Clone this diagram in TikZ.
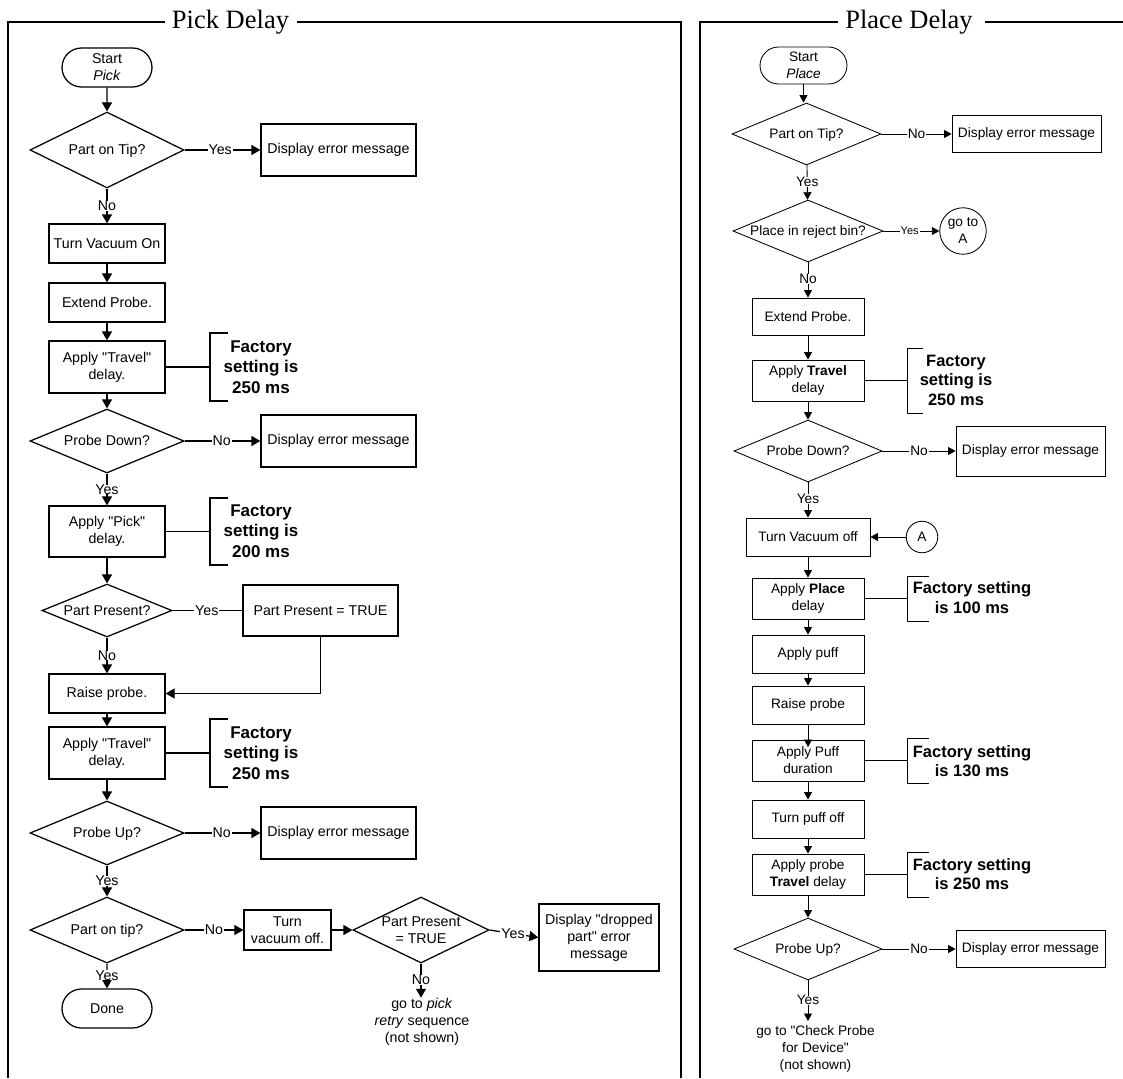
\documentclass[tikz,border=0pt]{standalone}
\usepackage{fontspec}
\setmainfont{Liberation Sans}[Ligatures=TeXOff]
\newfontfamily\titlefont{Liberation Serif}
\usetikzlibrary{shapes.geometric,shapes.misc,arrows.meta}
\newcommand\placenode[7]{% style, name, x1,y1,x2,y2, text
  \pgfmathsetmacro\nw{#5-#3}\pgfmathsetmacro\nh{#6-#4}%
  \pgfmathsetmacro\nx{(#3+#5)/2}\pgfmathsetmacro\ny{(#4+#6)/2}%
  \node[#1,minimum width=\nw pt,minimum height=\nh pt] (#2) at (\nx,\ny) {#7};}
\newcommand\dtext[1]{\makebox[0pt]{\raisebox{-.36em}[0pt][0pt]{\begin{tabular}[c]{@{}c@{}}#1\end{tabular}}}}
\tikzset{
  x=1pt,y=-1pt,
  frame/.style={line width=1.7pt,line cap=butt},
  title/.style={font=\titlefont\fontsize{26.5}{30}\selectfont,inner sep=0pt},
  lefts/.style={line width=1.25pt,font=\fontsize{14.2}{17}\selectfont},
  rights/.style={line width=0.85pt,font=\fontsize{13.7}{17}\selectfont},
  boxn/.style={draw,rectangle,inner sep=0pt,align=center},
  termn/.style={draw,rounded rectangle,inner sep=0pt,align=center},
  dia/.style={draw,diamond,shape aspect=2,inner sep=0pt,align=center},
  circn/.style={draw,circle,inner sep=0pt,align=center},
  lab/.style={fill=white,inner xsep=1pt,inner ysep=0pt,align=center},
  smalllab/.style={lab,font=\fontsize{11}{13}\selectfont},
  plain/.style={inner sep=0pt,align=center},
  factl/.style={inner sep=0pt,align=center,font=\bfseries\fontsize{17}{20.5}\selectfont},
  factr/.style={inner sep=0pt,align=center,font=\bfseries\fontsize{16.5}{19.5}\selectfont},
  arrL/.style={-{Triangle[length=9pt,width=10pt]},line width=1.25pt},
  arrR/.style={-{Triangle[length=7.5pt,width=8pt]},line width=0.85pt},
  lin/.style={line width=1.25pt},
  linr/.style={line width=0.85pt},
}
\begin{document}
\begin{tikzpicture}
\useasboundingbox (0,0) rectangle (1123,1078);
% ---- frames
\node[title] (tp) at (230.5,22) {Pick Delay};
\node[title] (tq) at (909,22) {Place Delay};
\coordinate (pf1) at (8,1078); \coordinate (pf2) at (8,22); \coordinate (pf2b) at (165,22);
\coordinate (pf3a) at (297,22); \coordinate (pf3) at (681,22); \coordinate (pf4) at (681,1078);
\draw[frame] (pf1) -- (pf2) -- (pf2b);
\draw[frame] (pf3a) -- (pf3) -- (pf4);
\coordinate (qf1) at (700,1078); \coordinate (qf2) at (700,22); \coordinate (qf2b) at (838,22);
\coordinate (qf3a) at (985,22); \coordinate (qf3) at (1123,22);
\draw[frame] (qf1) -- (qf2) -- (qf2b);
\draw[frame] (qf3a) -- (qf3);
% ---- LEFT
\begin{scope}[lefts]
\placenode{termn}{a0}{62}{48}{152}{87}{Start\\\textit{Pick}}
\placenode{dia}{a1}{30}{112}{184}{188}{\dtext{Part on Tip?}}
\placenode{boxn}{a1e}{261}{124}{416}{176}{Display error message}
\placenode{boxn}{a2}{49}{224}{165}{263}{Turn Vacuum On}
\placenode{boxn}{a3}{49}{283}{165}{322}{Extend Probe.}
\placenode{boxn}{a4}{49}{341}{165}{393}{Apply "Travel"\\delay.}
\placenode{dia}{a5}{30}{409}{184}{473}{\dtext{Probe Down?}}
\placenode{boxn}{a5e}{261}{415}{416}{467}{Display error message}
\placenode{boxn}{a6}{49}{506}{165}{557}{Apply "Pick"\\delay.}
\placenode{dia}{a7}{42}{584}{172}{637}{\dtext{Part Present?}}
\placenode{boxn}{a7e}{243}{585}{398}{636}{Part Present = TRUE}
\placenode{boxn}{a8}{49}{674}{165}{713}{Raise probe.}
\placenode{boxn}{a9}{49}{727}{165}{779}{Apply "Travel"\\delay.}
\placenode{dia}{a10}{30}{801}{184}{865}{\dtext{Probe Up?}}
\placenode{boxn}{a10e}{261}{807}{416}{859}{Display error message}
\placenode{dia}{a11}{30}{897}{184}{963}{\dtext{Part on tip?}}
\placenode{boxn}{a12}{244}{910}{331}{950}{Turn\\vacuum off.}
\placenode{dia}{a13}{353}{897}{489}{963}{\dtext{Part Present\\= TRUE}}
\placenode{boxn}{a14}{539}{904}{659}{971}{Display "dropped\\part" error\\message}
\placenode{termn}{a15}{62}{989}{152}{1028}{Done}
\node[plain] (a16) at (422,1022) {go to \textit{pick}\\\textit{retry} sequence\\(not shown)};
\node[factl] (f1) at (261,367) {Factory\\setting is\\250 ms};
\node[factl] (f2) at (261,531) {Factory\\setting is\\200 ms};
\node[factl] (f3) at (261,753) {Factory\\setting is\\250 ms};
\coordinate (b1) at (210,367); \coordinate (b2) at (210,531); \coordinate (b3) at (210,753);
\draw[lin] (228,333) -- (210,333) -- (210,401) -- (228,401);
\draw[lin] (228,498) -- (210,498) -- (210,565) -- (228,565);
\draw[lin] (228,719) -- (210,719) -- (210,787) -- (228,787);
\draw[lin] (a4.east) -- (a4.east -| b1);
\draw[lin] (a6.east) -- (a6.east -| b2);
\draw[lin] (a9.east) -- (a9.east -| b3);
\draw[arrL] (a0) -- (a1);
\draw[arrL] (a1) -- node[lab,pos=.47]{Yes} (a1e);
\draw[arrL] (a1) -- node[lab,pos=.5]{No} (a2);
\draw[arrL] (a2) -- (a3);
\draw[arrL] (a3) -- (a4);
\draw[arrL] (a4) -- (a5);
\draw[arrL] (a5) -- node[lab,pos=.49]{No} (a5e);
\draw[arrL] (a5) -- node[lab,pos=.5]{Yes} (a6);
\draw[arrL] (a6) -- (a7);
\draw[lin] (a7) -- node[lab,pos=.49]{Yes} (a7e);
\draw[arrL] (a7) -- node[lab,pos=.5]{No} (a8);
\draw[arrL] (a7e.south) |- (a8.east);
\draw[arrL] (a8) -- (a9);
\draw[arrL] (a9) -- (a10);
\draw[arrL] (a10) -- node[lab,pos=.49]{No} (a10e);
\draw[arrL] (a10) -- node[lab,pos=.5]{Yes} (a11);
\draw[arrL] (a11) -- node[lab,pos=.5]{No} (a12);
\draw[arrL] (a12) -- (a13);
\draw[arrL] (a13.east) -- node[lab,pos=.48]{Yes} (a14.west);
\draw[arrL] (a11) -- node[lab,pos=.47]{Yes} (a15);
\draw[arrL] (a13.south) -- node[lab,pos=.48]{No} (a16.north -| a13.south);
\end{scope}
% ---- RIGHT
\begin{scope}[rights]
\placenode{termn}{c0}{760}{47}{847}{84}{Start\\\textit{Place}}
\placenode{dia}{c1}{732}{103}{881}{165}{\dtext{Part on Tip?}}
\placenode{boxn}{c1e}{952}{115.5}{1101}{152.5}{Display error message}
\placenode{dia}{c2}{733}{200}{883}{262}{\dtext{Place in reject bin?}}
\node[circn,minimum size=46.5pt] (c2e) at (963,231) {go to\\A};
\placenode{boxn}{c3}{752}{298}{864}{335}{Extend Probe.}
\placenode{boxn}{c4}{752}{360}{864}{401}{Apply \textbf{Travel}\\delay}
\placenode{dia}{c5}{734}{420}{882}{482}{\dtext{Probe Down?}}
\placenode{boxn}{c5e}{956}{426}{1105}{476}{Display error message}
\placenode{boxn}{c6}{746}{518}{870}{556}{Turn Vacuum off}
\node[circn,minimum size=31.5pt] (c6a) at (922,537) {A};
\placenode{boxn}{c7}{752}{578}{864}{619}{Apply \textbf{Place}\\delay}
\placenode{boxn}{c8}{752}{635}{864}{673}{Apply puff}
\placenode{boxn}{c9}{752}{686}{864}{724}{Raise probe}
\placenode{boxn}{c10}{752}{740}{864}{781}{Apply Puff\\duration}
\placenode{boxn}{c11}{752}{800}{864}{838}{Turn puff off}
\placenode{boxn}{c12}{752}{854}{864}{895}{Apply probe\\\textbf{Travel} delay}
\placenode{dia}{c13}{734}{918}{882}{980}{\dtext{Probe Up?}}
\placenode{boxn}{c13e}{956}{930.5}{1105}{967.5}{Display error message}
\node[plain] (c14) at (815.5,1049) {go to "Check Probe\\for Device"\\(not shown)};
\node[factr] (g1) at (956,380) {Factory\\setting is\\250 ms};
\node[factr] (g2) at (972,597.5) {Factory setting\\is 100 ms};
\node[factr] (g3) at (972,761) {Factory setting\\is 130 ms};
\node[factr] (g4) at (972,874) {Factory setting\\is 250 ms};
\coordinate (h1) at (907,380); \coordinate (h2) at (907,598); \coordinate (h3) at (907,761); \coordinate (h4) at (907,874);
\draw[linr] (923,348) -- (907,348) -- (907,413) -- (923,413);
\draw[linr] (929,576) -- (907,576) -- (907,621) -- (929,621);
\draw[linr] (929,738) -- (907,738) -- (907,783) -- (929,783);
\draw[linr] (929,852) -- (907,852) -- (907,897) -- (929,897);
\draw[linr] (c4.east) -- (c4.east -| h1);
\draw[linr] (c7.east) -- (c7.east -| h2);
\draw[linr] (c10.east) -- (c10.east -| h3);
\draw[linr] (c12.east) -- (c12.east -| h4);
\coordinate (c10t) at (808,747);
\coordinate (c14t) at (808,1021);
\draw[arrR] (c0.south) -- (c1.north -| c0.south);
\draw[arrR] (c1) -- node[lab,pos=.5]{No} (c1e);
\draw[arrR] (c1) -- node[lab,pos=.49]{Yes} (c2);
\draw[arrR] (c2) -- node[smalllab,pos=.47]{Yes} (c2e);
\draw[arrR] (c2) -- node[lab,pos=.47]{No} (c3);
\draw[arrR] (c3) -- (c4);
\draw[arrR] (c4) -- (c5);
\draw[arrR] (c5) -- node[lab,pos=.5]{No} (c5e);
\draw[arrR] (c5) -- node[lab,pos=.47]{Yes} (c6);
\draw[arrR] (c6a) -- (c6);
\draw[arrR] (c6) -- (c7);
\draw[arrR] (c7) -- (c8);
\draw[arrR] (c8) -- (c9);
\draw[arrR] (c9.south) -- (c10t);
\draw[arrR] (c10) -- (c11);
\draw[arrR] (c11) -- (c12);
\draw[arrR] (c12) -- (c13);
\draw[arrR] (c13) -- node[lab,pos=.5]{No} (c13e);
\draw[arrR] (c13.south) -- node[lab,pos=.49]{Yes} (c14t);
\end{scope}
\end{tikzpicture}
\end{document}
